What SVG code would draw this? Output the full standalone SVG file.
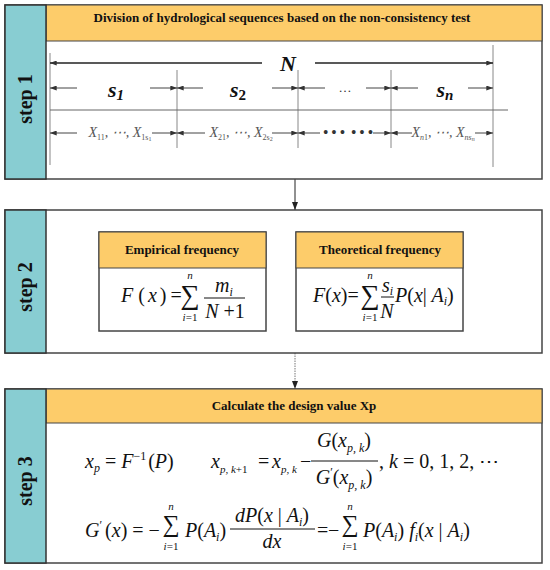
<svg xmlns="http://www.w3.org/2000/svg" width="550" height="570" viewBox="0 0 550 570">
<defs>
<style>
.box{fill:#fff;stroke:#444;stroke-width:1.5}
.teal{fill:#88CDD2;stroke:#333;stroke-width:1.5}
.orange{fill:#FDCC6A;stroke:#444;stroke-width:1}
.step{font-family:"Liberation Serif",serif;font-weight:bold;font-size:20px;fill:#111}
.hdr{font-family:"Liberation Serif",serif;font-weight:bold;font-size:13px;fill:#111}
.vl{stroke:#888;stroke-width:1}
.ar{stroke:#444;stroke-width:1;marker-end:url(#ah)}
.m{font-family:"Liberation Serif",serif;font-style:italic;font-size:20px;fill:#111}
.lim{font-family:"Liberation Serif",serif;font-style:italic;font-size:11px;fill:#111}
.r{font-style:normal}
.sub{font-size:12px}
.lbl{font-family:"Liberation Serif",serif;font-style:italic;font-weight:bold;font-size:22px;fill:#111}
.xl{font-family:"Liberation Serif",serif;font-style:italic;font-size:14px;fill:#555}
.sig{font-family:"Liberation Serif",serif;font-style:normal;fill:#111}
.dots{font-family:"Liberation Serif",serif;font-weight:bold;font-size:14px;fill:#333}
</style>
<marker id="ah" viewBox="0 0 8 6" refX="8" refY="3" markerWidth="7" markerHeight="5" markerUnits="userSpaceOnUse" orient="auto"><path d="M0,0 L8,3 L0,6 z" fill="#333"/></marker>
<marker id="ah2" viewBox="0 0 8 6" refX="8" refY="3" markerWidth="8" markerHeight="7" markerUnits="userSpaceOnUse" orient="auto"><path d="M0,0 L8,3 L0,6 z" fill="#222"/></marker>
</defs>

<g id="connectors">
<line x1="295" y1="179" x2="295" y2="210" stroke="#222" stroke-width="1" marker-end="url(#ah2)"/>
<line x1="295" y1="353" x2="295" y2="389" stroke="#777" stroke-width="1" stroke-dasharray="1.5 1" marker-end="url(#ah2)"/>
</g>

<g id="step1">
<rect class="box" x="5" y="5" width="537" height="174"/>
<rect class="orange" x="46" y="5" width="496" height="36"/>
<rect class="teal" x="5" y="5" width="41" height="174"/>
<text class="step" transform="translate(25,99) rotate(-90)" text-anchor="middle" dy="0.35em">step 1</text>
<text class="hdr" x="282" y="22" text-anchor="middle">Division of hydrological sequences based on  the non-consistency test</text>
<line class="vl" x1="50" y1="53" x2="50" y2="165"/>
<line class="vl" x1="493" y1="45" x2="493" y2="167"/>
<line class="vl" x1="177" y1="70" x2="177" y2="148"/>
<line class="vl" x1="298" y1="70" x2="298" y2="148"/>
<line class="vl" x1="391" y1="70" x2="391" y2="148"/>
<line x1="50" y1="110" x2="508" y2="110" stroke="#666" stroke-width="1"/>
<line x1="262" y1="63" x2="50" y2="63" stroke="#222" stroke-width="1.5" marker-end="url(#ah)"/>
<line x1="315" y1="63" x2="493" y2="63" stroke="#222" stroke-width="1.5" marker-end="url(#ah)"/>
<text class="lbl" x="288" y="71" text-anchor="middle" font-size="24">N</text>
<line class="ar" x1="77" y1="88" x2="50" y2="88"/>
<line class="ar" x1="150" y1="88" x2="177" y2="88"/>
<line class="ar" x1="203" y1="88" x2="177" y2="88"/>
<line class="ar" x1="272" y1="88" x2="298" y2="88"/>
<line class="ar" x1="325" y1="88" x2="298" y2="88"/>
<line class="ar" x1="366" y1="88" x2="391" y2="88"/>
<line class="ar" x1="418" y1="88" x2="391" y2="88"/>
<line class="ar" x1="468" y1="88" x2="493" y2="88"/>
<text class="lbl" x="116" y="97" text-anchor="middle">s<tspan font-size="15" dy="3">1</tspan></text>
<text class="lbl" x="238" y="97" text-anchor="middle">s<tspan font-size="15" dy="3" font-style="normal">2</tspan></text>
<text x="345" y="92" text-anchor="middle" font-family="Liberation Serif,serif" font-size="13" fill="#333">…</text>
<text class="lbl" x="445" y="97" text-anchor="middle">s<tspan font-size="15" dy="3">n</tspan></text>
<line class="ar" x1="77" y1="133" x2="50" y2="133"/>
<line class="ar" x1="152" y1="133" x2="177" y2="133"/>
<line class="ar" x1="205" y1="133" x2="177" y2="133"/>
<line class="ar" x1="272" y1="133" x2="298" y2="133"/>
<line class="ar" x1="320" y1="133" x2="298" y2="133"/>
<line class="ar" x1="373" y1="133" x2="391" y2="133"/>
<line class="ar" x1="412" y1="133" x2="391" y2="133"/>
<line class="ar" x1="475" y1="133" x2="493" y2="133"/>
<text class="xl" x="120" y="137" text-anchor="middle">X<tspan font-size="8" dy="3" font-style="normal">11</tspan><tspan dy="-3">, ⋯, X</tspan><tspan font-size="8" dy="3" font-style="normal">1s</tspan><tspan font-size="6" dy="1" font-style="normal">1</tspan></text>
<text class="xl" x="241" y="137" text-anchor="middle">X<tspan font-size="8" dy="3" font-style="normal">21</tspan><tspan dy="-3">, ⋯, X</tspan><tspan font-size="8" dy="3" font-style="normal">2s</tspan><tspan font-size="6" dy="1" font-style="normal">2</tspan></text>
<text class="dots" x="334" y="137" text-anchor="middle">• • •</text>
<text class="dots" x="362" y="137" text-anchor="middle">• • •</text>
<text class="xl" x="443" y="137" text-anchor="middle">X<tspan font-size="8" dy="3">n</tspan><tspan font-size="8" font-style="normal">1</tspan><tspan dy="-3">, ⋯, X</tspan><tspan font-size="8" dy="3">ns</tspan><tspan font-size="6" dy="1">n</tspan></text>
</g>

<g id="step2">
<rect class="box" x="5" y="210" width="537" height="143"/>
<rect class="teal" x="5" y="210" width="41" height="143"/>
<text class="step" transform="translate(25,287) rotate(-90)" text-anchor="middle" dy="0.35em">step 2</text>
</g>

<g id="empirical">
<rect class="box" x="99" y="232" width="167" height="99" stroke-width="1.2"/>
<rect class="orange" x="99" y="232" width="167" height="36"/>
<text class="hdr" x="182" y="254" text-anchor="middle" font-size="14">Empirical frequency</text>
<text class="m" x="121" y="302">F<tspan class="r" dx="5">(</tspan><tspan dx="3">x</tspan><tspan class="r" dx="3">)</tspan><tspan class="r" dx="4">=</tspan></text>
<text class="sig" x="190" y="304" font-size="27" text-anchor="middle">∑</text>
<text class="lim" x="190" y="279" text-anchor="middle">n</text>
<text class="lim" x="190" y="321" text-anchor="middle">i<tspan class="r">=1</tspan></text>
<text class="m" x="224" y="292" text-anchor="middle">m<tspan class="sub" dy="4">i</tspan></text>
<line x1="204" y1="298" x2="245" y2="298" stroke="#111" stroke-width="1"/>
<text class="m" x="225" y="318" text-anchor="middle">N <tspan class="r">+1</tspan></text>
</g>

<g id="theoretical">
<rect class="box" x="296" y="232" width="167" height="99" stroke-width="1.2"/>
<rect class="orange" x="296" y="232" width="167" height="36"/>
<text class="hdr" x="380" y="254" text-anchor="middle" font-size="14">Theoretical frequency</text>
<text class="m" x="313" y="302">F<tspan class="r">(</tspan>x<tspan class="r">)=</tspan></text>
<text class="sig" x="370" y="304" font-size="27" text-anchor="middle">∑</text>
<text class="lim" x="370" y="279" text-anchor="middle">n</text>
<text class="lim" x="370" y="321" text-anchor="middle">i<tspan class="r">=1</tspan></text>
<text class="m" x="382" y="292">s<tspan class="sub" dy="3">i</tspan></text>
<line x1="381" y1="297" x2="394" y2="297" stroke="#111" stroke-width="1"/>
<text class="m" x="387" y="318" text-anchor="middle">N</text>
<text class="m" x="395" y="302">P<tspan class="r">(</tspan>x<tspan class="r">|</tspan> A<tspan class="sub" dy="3">i</tspan><tspan class="r" dy="-3">)</tspan></text>
</g>

<g id="step3">
<rect class="box" x="5" y="389" width="537" height="174"/>
<rect class="orange" x="46" y="389" width="496" height="34"/>
<rect class="teal" x="5" y="389" width="41" height="174"/>
<text class="step" transform="translate(25,481) rotate(-90)" text-anchor="middle" dy="0.35em">step 3</text>
<text class="hdr" x="294" y="410" text-anchor="middle">Calculate the design value Xp</text>
<text class="m" x="85" y="468">x<tspan class="sub" dy="4">p</tspan><tspan class="r" dy="-4"> = </tspan>F<tspan class="sub r" dy="-8">−1</tspan><tspan class="r" dy="8" dx="2">(</tspan>P<tspan class="r">)</tspan></text>
<text class="m" x="211" y="468">x<tspan font-size="11" dy="5">p, k<tspan class="r">+1</tspan></tspan></text>
<text class="m r" x="258" y="468">=</text>
<text class="m" x="272" y="468">x<tspan font-size="11" dy="5">p, k</tspan></text>
<text class="m r" x="300" y="468">−</text>
<text class="m" x="344" y="447" text-anchor="middle">G<tspan class="r">(</tspan>x<tspan class="sub" dy="5">p, k</tspan><tspan class="r" dy="-5">)</tspan></text>
<line x1="311" y1="461" x2="378" y2="461" stroke="#111" stroke-width="1"/>
<text class="m" x="344" y="484" text-anchor="middle">G<tspan class="sub r" dy="-8">′</tspan><tspan class="r" dy="8">(</tspan>x<tspan class="sub" dy="5">p, k</tspan><tspan class="r" dy="-5">)</tspan></text>
<text class="m" x="379" y="468"><tspan class="r">,  </tspan>k<tspan class="r"> = 0, 1,  2,  ⋯</tspan></text>
<text class="m" x="85" y="537">G<tspan class="sub r" dy="-8">′</tspan><tspan class="r" dy="8" dx="3">(</tspan>x<tspan class="r">)</tspan><tspan class="r"> = −</tspan></text>
<text class="sig" x="171" y="532" font-size="24" text-anchor="middle">∑</text>
<text class="lim" x="171" y="510" text-anchor="middle">n</text>
<text class="lim" x="171" y="550" text-anchor="middle">i<tspan class="r">=1</tspan></text>
<text class="m" x="185" y="537">P<tspan class="r">(</tspan>A<tspan class="sub" dy="4">i</tspan><tspan class="r" dy="-4">)</tspan></text>
<text class="m" x="272" y="522" text-anchor="middle">dP<tspan class="r">(</tspan>x<tspan class="r"> | </tspan>A<tspan class="sub" dy="4">i</tspan><tspan class="r" dy="-4">)</tspan></text>
<line x1="230" y1="529" x2="315" y2="529" stroke="#111" stroke-width="1"/>
<text class="m" x="272" y="548" text-anchor="middle">dx</text>
<text class="m r" x="317" y="537">=</text>
<text class="m r" x="328" y="537">−</text>
<text class="sig" x="350" y="532" font-size="24" text-anchor="middle">∑</text>
<text class="lim" x="350" y="510" text-anchor="middle">n</text>
<text class="lim" x="350" y="550" text-anchor="middle">i<tspan class="r">=1</tspan></text>
<text class="m" x="363" y="537">P<tspan class="r">(</tspan>A<tspan class="sub" dy="4">i</tspan><tspan class="r" dy="-4">) </tspan>f<tspan class="sub" dy="4">i</tspan><tspan class="r" dy="-4">(</tspan>x<tspan class="r"> | </tspan>A<tspan class="sub" dy="4">i</tspan><tspan class="r" dy="-4">)</tspan></text>
</g>
</svg>
